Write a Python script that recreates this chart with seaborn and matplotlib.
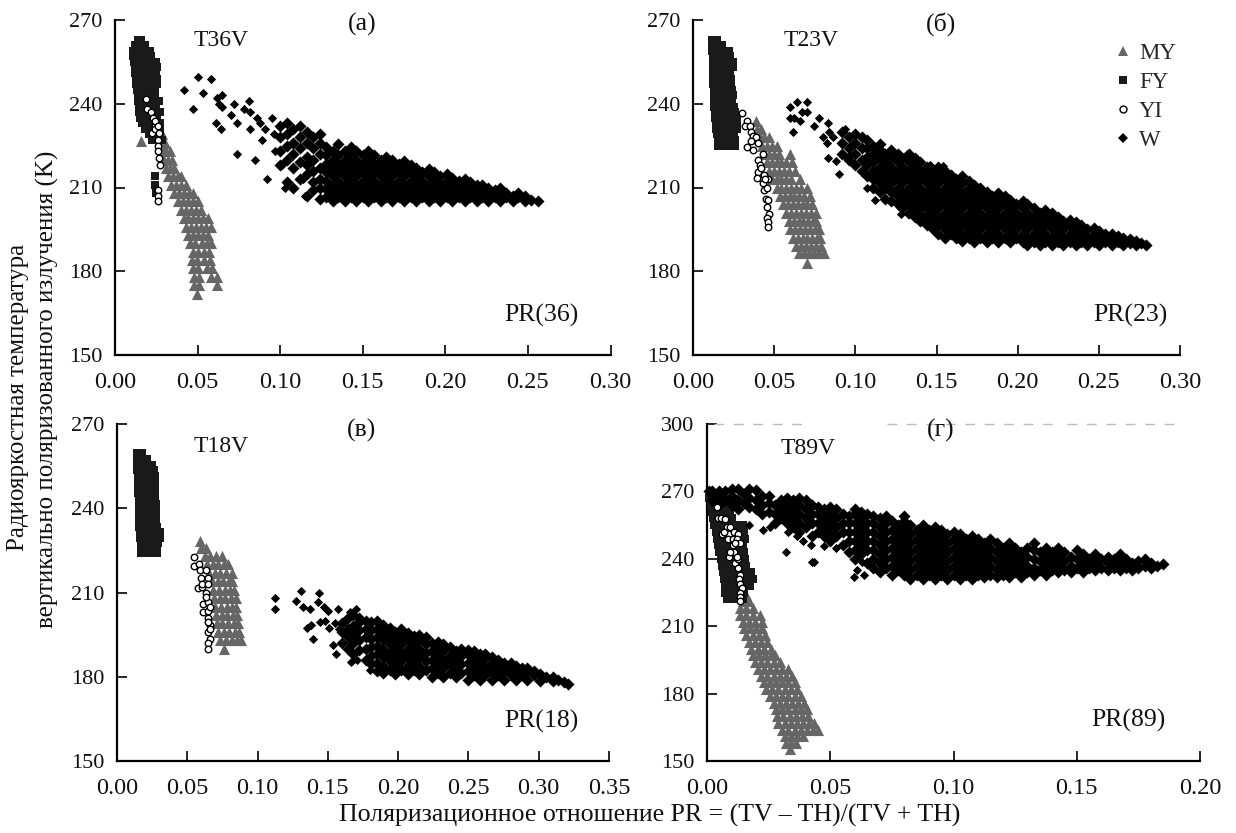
import matplotlib
matplotlib.use("Agg")
import matplotlib.pyplot as plt
from matplotlib.lines import Line2D
import pandas as pd
import seaborn as sns

# every cloud is read off the picture by hand
# *_rows: (T, pr, pr, ...)   *_cols: (pr, T, T, ...)   *_pts: (pr, T)

# panel a, T36V
a_my_rows = [(229,.027,.0285),(226,.0275,.030),(223,.029,.031,.0335),(220,.0295,.032,.0345),(217,.031,.0335,.036),
 (214,.032,.035,.038,.040),(211,.034,.037,.040,.043),(208,.036,.039,.042,.045,.0475),(205,.038,.041,.044,.047,.050),
 (202,.040,.043,.046,.049,.052),(199,.0415,.0445,.0475,.0505,.0535,.0565),(196,.043,.046,.049,.052,.055,.058),
 (193,.0445,.0475,.0505,.0535,.0565),(190,.0455,.0485,.0525,.0555,.058),(187,.047,.0505,.054,.057),
 (184,.0465,.0495,.054,.0575),(181,.047,.050,.056,.059),(178,.048,.051,.058,.0615),(175,.048,.051,.0615),(172,.0495),(226.5,.016)]
a_fy_rows = [(263,.014,.016),(261,.012,.015,.018),(259,.011,.0145,.018,.021),(257,.011,.0145,.018,.0215),
 (255,.0115,.015,.0185,.022,.025),(253,.012,.0155,.019,.0225,.0255),(251,.012,.0155,.019,.0225,.025),
 (249,.0125,.016,.0195,.023,.0255),(247,.013,.0165,.020,.023,.0255),(245,.0135,.017,.0205,.024),
 (243,.014,.0175,.021,.0245),(241,.014,.0175,.021,.0245,.0265),(239,.0145,.018,.0215,.025),
 (237,.0145,.018,.0215,.025,.027),(235,.015,.0185,.022,.0255),(233,.0165,.020,.0235,.027),
 (231,.018,.0215,.025,.0275),(229,.0205,.024,.027),(227,.0225,.0255,.0285),(214,.0245),(211,.0245),(208,.025)]
a_yi_pts = [(.019,241.7),(.0196,238),(.022,237),(.023,235),(.024,232),(.0222,229.5),(.0244,231),(.0269,229.5),
 (.0258,227),(.0258,225),(.026,223),(.0267,220.5),(.027,218),(.0245,234),(.026,232),(.026,209),(.026,207),(.026,205)]
a_w_cols = [(.100,218,223,228,232),(.104,212,220,225,229,233),(.108,210,217,222,226,231),(.112,213,219,224,228,232),
 (.116,207,215,218,221,226,230),(.120,209,212,216,220,224,228),(.124,206,210,213,217,222,226,229),
 (.128,206.5,209.5,212.5,215.5,218.5,221.5,224.5),(.132,205,208,211,214,217,220,223),(.135,206.5,209.5,212.5,215.5,218.5,221.5,225.5),
 (.139,205,208,211,214,217,220,223),(.143,206.5,209.5,212.5,215.5,218.5,221.5,224.5),(.146,205,208,211,214,217,220,223),
 (.150,206.5,209.5,212.5,215.5,218.5,221.5),(.153,205,208,211,214,217,220,223),(.157,206.5,209.5,212.5,215.5,218.5,221.5),
 (.161,205,208,211,214,217,220),(.164,206.5,209.5,212.5,215.5,218.5,221),(.168,205,208,211,214,217,220),
 (.172,206.5,209.5,212.5,215.5,218.5),(.175,205,208,211,214,217,219.5),(.179,206.5,209.5,212.5,215.5,218),(.182,205,208,211,214,217),
 (.186,206.5,209.5,212.5,215.5),(.190,205,208,211,214,216.5),(.193,206.5,209.5,212.5,215.5),(.197,205,208,211,214),
 (.201,206.5,209.5,212.5,215),(.204,205,208,211,213.5),(.208,206.5,209.5,212.5),(.212,205,208,211,213),(.215,206.5,209.5,212),
 (.219,205,208,211),(.222,206.5,209.5,211),(.226,205,208,210),(.230,206.5,209),(.233,205,208,210),(.237,206.5,208),
 (.241,205,207),(.244,206.5,208),(.248,205,207),(.252,205.5),(.256,205)]
a_w_pts = [(.050,249.6),(.058,249),(.042,245),(.053,244),(.047,238),(.062,242),(.065,243),(.063,240),(.065,239),
 (.061,233),(.064,231),(.070,236),(.072,240),(.081,241),(.074,233),(.078,238),(.082,237),(.086,235),(.095,235),
 (.088,233),(.082,231),(.074,222),(.085,220),(.092,213),(.089,227),(.103,210),(.105,212),(.115,207),(.114,213),
 (.097,223),(.101,218),(.091,231),(.096,229)]

# panel b, T23V
b_my_rows = [(234,.039),(231,.0395,.042),(228,.041,.044,.047),(225,.0425,.0455,.0485,.052),(222,.044,.047,.050,.053,.0595),
 (219,.0455,.0485,.0515,.0545,.0575,.061),(216,.047,.050,.053,.056,.059,.063),(213,.0485,.0515,.0545,.0575,.0605,.066),
 (210,.0515,.0545,.0575,.0605,.0635,.0665,.070),(207,.0535,.0565,.0595,.0625,.0655,.0685,.072),
 (204,.0555,.0585,.0615,.0645,.0675,.0705,.0735),(201,.0575,.0605,.0635,.0665,.0695,.0725,.0755),
 (198,.059,.062,.065,.068,.071,.074,.076),(195,.060,.063,.066,.069,.072,.075,.0775),
 (192,.0615,.0645,.0675,.0705,.0735,.0765,.0785),(189,.0635,.0665,.0695,.0725,.0755,.079),
 (186.5,.0655,.0685,.0715,.0745,.0775,.081),(183,.070)]
b_fy_rows = [(263,.012,.015),(261,.012,.015,.018),(259,.012,.0155,.019,.022),(257,.0125,.016,.0195,.023),
 (255,.0125,.016,.0195,.023,.0245),(253,.0125,.016,.0195,.023,.0245),(251,.0125,.016,.0195,.023),
 (249,.0125,.016,.0195,.0235),(247,.0125,.016,.0195,.0235),(245,.013,.0165,.020,.024),(243,.013,.0165,.020,.0235,.0245),
 (241,.013,.0165,.020,.024),(239,.013,.0165,.020,.0235,.025),(237,.0135,.017,.0205,.024,.026),
 (235,.0135,.017,.0205,.024,.027),(233,.014,.0175,.021,.0245,.027),(231,.014,.0175,.021,.0245,.027),
 (229,.015,.0185,.022,.0255),(227,.0155,.019,.0225,.026),(225,.0155,.019,.0225,.026)]
b_yi_pts = [(.030,236.6),(.033,234),(.032,232),(.035,232),(.036,230),(.037,228.5),(.039,228),(.040,226),(.033,224.5),
 (.036,226.5),(.037,223.5),(.043,222),(.040,220),(.041,218),(.040,215.5),(.042,217),(.0395,213.5),(.044,214.5),
 (.046,213),(.043,211.5),(.044,209),(.045,206),(.046,205.5),(.0455,203),(.047,200.5),(.0455,199),(.046,197.5),
 (.046,196),(.0445,213),(.0455,210)]
b_w_cols = [(.092,222,226,230),(.096,220,224,228),(.100,218,222,226,229),(.104,216,220,224,228),(.107,214,218,221,224,227),
 (.111,210,213,216,219,222,225),(.115,208.5,211.5,214.5,217.5,220.5,223.5,225.5),(.118,206,210,213,216,219,222),
 (.122,205,208.5,211.5,214.5,217.5,220.5,223.5),(.126,204,207,210,213,216,219,222),(.129,202.5,205.5,208.5,211.5,214.5,217.5,220.5),
 (.133,201,204,207,210,213,216,219,222),(.137,199.5,202.5,205.5,208.5,211.5,214.5,217.5,220.5),(.140,198,201,204,207,210,213,216,219),
 (.144,196.5,199.5,202.5,205.5,208.5,211.5,214.5,217.5),(.148,195,198,201,204,207,210,213,216),(.151,193.5,196.5,199.5,202.5,205.5,208.5,211.5,214.5,217.5),
 (.155,192,195,198,201,204,207,210,213,216),(.159,193.5,196.5,199.5,202.5,205.5,208.5,211.5,214.5),(.162,192,195,198,201,204,207,210,213),
 (.166,191,193.5,196.5,199.5,202.5,205.5,208.5,211.5,214),(.170,192,195,198,201,204,207,210,212.5),(.173,190.5,193.5,196.5,199.5,202.5,205.5,208.5,211),
 (.177,192,195,198,201,204,207,210),(.181,190.5,193.5,196.5,199.5,202.5,205.5,208.5),(.184,192,195,198,201,204,207),
 (.188,190.5,193.5,196.5,199.5,202.5,205.5,208),(.192,192,195,198,201,204,207),(.195,190.5,193.5,196.5,199.5,202.5,205.5),
 (.199,192,195,198,201,204),(.203,190.5,193.5,196.5,199.5,202.5,205),(.206,189.5,192,195,198,201,204),(.210,190.5,193.5,196.5,199.5,202.5),
 (.214,189.5,192,195,198,201),(.217,190.5,193.5,196.5,199.5,202),(.221,189.5,192,195,198,201),(.225,190.5,193.5,196.5,199.5),
 (.228,189.5,192,195,198),(.232,190.5,193.5,196.5,198.5),(.236,189.5,192,195,197.5),(.239,190.5,193.5,196.5),(.243,189.5,192,195),
 (.247,190.5,193.5,195.5),(.250,189.5,192,194.5),(.254,190.5,193.5),(.258,189.5,192,193.5),(.262,190.5,192.5),(.265,189.5,192),
 (.269,190,191.5),(.273,189.5,191),(.276,190),(.279,189.5)]
b_w_pts = [(.064,240.5),(.070,240.5),(.060,239),(.067,237),(.062,235),(.0598,234.8),(.066,234),(.0616,230),(.070,237),
 (.0776,235),(.0745,232),(.083,233),(.0838,230),(.0825,226),(.0936,231),(.083,220.5),(.088,219.5),(.090,215),
 (.094,221),(.0965,221.5),(.1085,214.6),(.107,210),(.112,205.5),(.128,200.5),(.1325,200.5),(.128,204),(.14,202),
 (.168,193.6),(.132,222),(.146,218),(.154,217.6),(.080,228),(.086,228)]

# panel c, T18V
c_my_rows = [(228.5,.059),(226,.0595,.0635),(223,.0625,.0665,.0705,.0745),(220,.064,.068,.072,.076,.079),
 (217,.0655,.0695,.0735,.0775,.0815),(214,.0675,.0715,.0755,.0795,.082),(211,.0685,.0725,.0765,.0805,.083),
 (208,.069,.073,.077,.081,.085),(205,.070,.074,.078,.082,.085),(202,.0705,.0745,.0785,.0825,.0855),
 (199,.071,.075,.079,.083,.086),(196,.072,.076,.080,.084,.0865),(193,.0735,.0775,.0815,.0855,.088),(190,.076)]
c_fy_rows = [(259.5,.014,.0175),(257.5,.014,.018,.021),(255.5,.0145,.0185,.0225,.025),(253.5,.0145,.0185,.0225,.0265),
 (251.5,.015,.019,.023,.027),(249.5,.015,.019,.023,.027),(247.5,.015,.019,.023,.027),(245.5,.015,.019,.023,.027),
 (243.5,.0155,.0195,.0235,.027),(241.5,.0155,.0195,.0235,.0275),(239.5,.0155,.0195,.0235,.0275),(237.5,.016,.020,.024,.028),
 (235.5,.016,.020,.024,.028),(233.5,.016,.020,.024,.0285),(231.5,.0165,.0205,.0245,.0285,.0305),
 (229.5,.0165,.0205,.0245,.0285,.0305),(227.5,.017,.021,.025,.029),(225.5,.017,.021,.025,.0285),(224,.017,.021,.025,.0285)]
c_yi_pts = [(.0548,222.5),(.0549,219.3),(.058,220),(.0592,218),(.0634,218),(.060,215),(.0644,215),(.0575,211.5),(.0605,212),
 (.063,210),(.0615,206),(.065,206.5),(.061,203),(.0645,203.5),(.0665,205),(.0645,201),(.066,198.5),(.065,196),(.0665,193.5),
 (.065,192),(.065,190),(.0635,208.5),(.0605,213),(.0645,213),(.0665,197),(.065,199.5)]
c_w_cols = [(.160,192,196,199),(.164,190,194,197,201),(.168,188,192,195,198,202),(.172,189.5,193,196.5,199.5,201),
 (.177,186,190,194,197,200),(.181,184.5,187.5,190.5,193.5,196.5,199.5),(.185,182,185,188,191,194,197,200),(.189,181.5,184,187,190,193,196,198.5),
 (.194,182.5,185.5,188.5,191.5,194.5,197.5),(.198,181,184,187,190,193,196),(.202,182.5,185.5,188.5,191.5,194.5,197),(.207,181,184,187,190,193,195.5),
 (.211,182.5,185.5,188.5,191.5,194.5),(.215,181,184,187,190,193,195),(.220,182.5,185.5,188.5,191.5,194),(.224,180,183,186,189,192),
 (.228,181.5,184.5,187.5,190.5,192.5),(.232,180,183,186,189,191.5),(.237,181.5,184.5,187.5,190.5),(.241,180,183,186,189),
 (.245,181.5,184.5,187.5,190),(.250,179,182,185,188,189.5),(.254,180.5,183.5,186.5,189),(.258,179,182,185,188),(.262,180.5,183.5,186.5,188),
 (.267,179,182,185,187),(.271,180.5,183.5,186),(.275,179,182,185),(.280,180.5,183.5,185),(.284,179,182,184),(.288,180.5,183),
 (.292,179,182,183),(.297,180.5,182),(.301,178.5,181),(.305,180),(.310,178.5,180),(.314,179),(.318,178),(.321,177.5)]
c_w_pts = [(.1125,208),(.1125,204),(.131,210.6),(.144,210),(.127,207),(.1325,205),(.137,204),(.143,206.5),(.147,205),(.15,203.5),
 (.157,204),(.135,197.5),(.138,198.5),(.1445,199.6),(.148,200),(.151,197.5),(.1395,193.5),(.154,191.4),(.156,188),(.1665,185.4),
 (.171,186),(.18,182.5),(.158,197),(.162,200),(.166,203),(.170,204),(.155,199)]

# panel d, T89V
d_my_rows = [(224,.016),(221,.0145,.017),(218,.0135,.016,.0185),(215,.0135,.016,.0185,.0215),(212,.0145,.017,.0195,.0225),
 (209,.015,.0175,.020,.0225),(206,.016,.0185,.021,.0235),(203,.017,.0195,.022,.0245),(200,.018,.0205,.023,.026),
 (197,.0185,.021,.0235,.026,.0275),(194,.0195,.022,.0245,.027,.0295),(191,.0205,.023,.0255,.028,.0305,.033),
 (188,.022,.0245,.027,.0295,.032,.0345),(185,.023,.0255,.028,.0305,.033,.0355),(182,.024,.0265,.029,.0315,.034,.0365),
 (179,.0255,.028,.0305,.033,.0355,.038),(176,.027,.0295,.032,.0345,.037,.0395),(173,.028,.0305,.033,.0355,.038,.0405),
 (170,.0285,.031,.0335,.036,.0385,.041),(167,.029,.0315,.034,.0365,.039,.0415,.0435),(164,.0305,.033,.0355,.038,.0405,.043,.045),
 (161,.0315,.034,.0365,.039),(158,.032,.034,.036),(155.5,.0335)]
d_fy_rows = [(267,.001,.0035,.006),(264,.0015,.004,.0065,.009),(261,.002,.0045,.007,.0095),(258,.0025,.005,.0075,.010),
 (255,.003,.0055,.008,.0105,.013,.0147),(252,.0035,.006,.0085,.011,.0135,.015),(249,.004,.0065,.009,.0115,.014,.0155),
 (246,.0045,.007,.0095,.012,.0145),(243,.005,.0075,.010,.0125,.015),(240,.0055,.008,.0105,.013,.0155),
 (237,.006,.0085,.011,.0135,.016),(234,.0065,.009,.0115,.014,.0165,.018),(231,.007,.0095,.012,.0145,.017,.0187),
 (228,.0075,.010,.0125,.015,.0175),(225,.0075,.010,.0125,.015),(222,.008,.0105,.013,.0147)]
d_yi_pts = [(.004,263),(.0045,258),(.0055,258),(.0075,257.5),(.008,254),(.0095,254),(.006,251),(.009,251),(.011,252),(.0125,251),
 (.0085,249),(.0105,249),(.012,249),(.0135,247),(.0105,246),(.011,243),(.009,241),(.0095,243),(.0115,238),(.0125,240),(.0125,236),
 (.0135,233),(.013,231),(.0135,229),(.014,227),(.0135,225),(.0135,223),(.0135,221),(.012,241),(.0115,247),(.007,252)]
d_w_cols = [(.001,270),(.002,266,270),(.005,264,268,270),(.0075,266,270),(.010,264,268,271),(.0125,262,266,271),(.015,265,269),
 (.017,263,267,271),(.020,262,266,270.5),(.0225,260,264,268),(.025,261,265,268),(.0275,256,260,264),(.030,258,262,266),
 (.0325,256,260,264,267),(.035,254,258,262,266),(.0375,252,256,260,264,267),(.040,254,258,262,266),(.0425,250,256,260,264),
 (.045,252,256,260,263),(.0475,250,254,258,262),(.050,248,252,256,260,263),(.0525,250,254,258,262),(.055,246,252,256,260),
 (.0575,243,248,252,256,259),(.060,240,244,248,252,256,260,262),(.0625,242,246,250,254,258,261),(.065,238,244,248,252,256,260),
 (.0675,236,240,244,248,252,256,259),(.070,234,238,242,246,250,254,258),(.0725,236,240,244,248,252,256,259),
 (.075,233,237,241,245,249,253,257),(.0775,235,239,243,247,251,255),(.080,233,237,241,245,249,253,257,259),
 (.0825,231,235,239,243,247,251,255),(.085,233,237,241,245,249,253),(.0875,231,235,239,243,247,251,255),(.090,233,237,241,245,249,253),
 (.0925,231,235,239,243,247,251,254),(.095,233,237,241,245,249,253),(.0975,231,235,239,243,247,251),(.100,233,237,241,245,249,252),
 (.1025,231,235,239,243,247,251),(.105,233,237,241,245,249),(.1075,231,235,239,243,247,250),(.110,233,237,241,245,249),
 (.1125,232,235,239,243,247),(.115,233,237,241,245,249),(.1175,232,235,239,243,247),(.120,233,237,241,245),(.1225,232,235,239,243,247),
 (.125,234,237,241,245),(.1275,232,235,239,243),(.130,234,237,241,245),(.1325,233,236,240,244,247),(.135,235,239,243),
 (.1375,233,237,241,245),(.140,235,239,243),(.1425,234,237,241,245),(.145,235,239,243),(.1475,234,237,241),(.150,236,240,244),
 (.1525,234,238,242),(.155,236,240),(.1575,235,238,242),(.160,236,240),(.1625,235,238,241),(.165,236,240),(.1675,235,238,242),
 (.170,236,240),(.1725,235,238),(.175,236,239),(.1775,237,240),(.180,236,238),(.1825,237),(.185,237.5)]
d_w_pts = [(.032,243),(.0427,238.7),(.0435,238.7),(.0595,232),(.061,235),(.0635,233),(.0627,238.7),(.0228,252.6),(.017,255),
 (.0256,254),(.0366,250),(.0423,246),(.0476,245.6),(.0525,244.7),(.033,252),(.039,248)]

y_a = [150, 180, 210, 240, 270]
x_a = [0.00, 0.05, 0.10, 0.15, 0.20, 0.25, 0.30]
x_c = [0.00, 0.05, 0.10, 0.15, 0.20, 0.25, 0.30, 0.35]
y_d = [150, 180, 210, 240, 270, 300]
x_d = [0.00, 0.05, 0.10, 0.15, 0.20]
dash_d = [(0.003, 0.042), (0.073, 0.140), (0.146, 0.192)]
kinds = ["MY", "FY", "Wp", "W", "YI"]


def from_rows(rows):
    return [(x, r[0]) for r in rows for x in r[1:]]


def from_cols(cols):
    return [(c[0], y) for c in cols for y in c[1:]]


def frame(my, fy, yi, w_cols, w_pts):
    sets = {"MY": from_rows(my), "FY": from_rows(fy), "YI": yi, "W": from_cols(w_cols), "Wp": w_pts}
    out = [pd.DataFrame(v, columns=["pr", "t"]).assign(kind=k) for k, v in sets.items()]
    return pd.concat(out)


W, H = 1236, 833
sns.set_theme(style="ticks")
plt.rcParams["font.family"] = ["Liberation Serif", "DejaVu Serif"]
fig = plt.figure(figsize=(W / 100, H / 100), dpi=100)

# the dense parts use fatter markers so that the clouds close up
markers = {"MY": "^", "FY": "s", "YI": "o", "W": "D", "Wp": "D"}
sizes = {"MY": 64, "FY": 32, "YI": 22, "W": 38, "Wp": 22}
colors = {"MY": "#666666", "FY": "#1a1a1a", "YI": "white", "W": "black", "Wp": "black"}
order = {"MY": 2, "FY": 3, "Wp": 4, "W": 4, "YI": 5}
TXT = "#111111"

panels = [
    ("а", frame(a_my_rows, a_fy_rows, a_yi_pts, a_w_cols, a_w_pts), (115, 610.5, 20, 355), x_a, y_a, "(a)", "T36V", "PR(36)", (362, 24), (221, 40), (541, 315)),
    ("б", frame(b_my_rows, b_fy_rows, b_yi_pts, b_w_cols, b_w_pts), (693, 1180, 20, 355), x_a, y_a, "(б)", "T23V", "PR(23)", (941, 24), (811, 40), (1130, 315)),
    ("в", frame(c_my_rows, c_fy_rows, c_yi_pts, c_w_cols, c_w_pts), (117, 609, 424, 761), x_c, y_a, "(в)", "T18V", "PR(18)", (362, 430), (221, 447), (541, 721)),
    ("г", frame(d_my_rows, d_fy_rows, d_yi_pts, d_w_cols, d_w_pts), (707, 1200, 424, 761), x_d, y_d, "(г)", "T89V", "PR(89)", (941, 430), (808, 449), (1128, 720)),
]

for name, df, box, xt, yt, tag, band, pr, tag_xy, band_xy, pr_xy in panels:
    l, r, t, b = box
    ax = fig.add_axes([l / W, 1 - b / H, (r - l) / W, (b - t) / H])
    for k in kinds:
        sns.scatterplot(data=df[df.kind == k], x="pr", y="t", ax=ax, marker=markers[k], s=sizes[k], color=colors[k],
                        edgecolor="black" if k == "YI" else colors[k], linewidth=1.0 if k == "YI" else 0,
                        zorder=order[k], clip_on=False, legend=False)
    ax.set_xlim(xt[0], xt[-1])
    ax.set_ylim(yt[0], yt[-1])
    ax.set_xticks(xt)
    ax.set_xticklabels([f"{v:.2f}" for v in xt])
    ax.set_yticks(yt)
    ax.set_xlabel("")
    ax.set_ylabel("")
    ax.tick_params(direction="in", length=7, width=1.2, color="black", labelcolor=TXT)
    ax.tick_params(axis="x", labelsize=17.5, pad=12)
    ax.tick_params(axis="y", labelsize=16, pad=9)
    sns.despine(ax=ax)
    for s in ["left", "bottom"]:
        ax.spines[s].set_linewidth(1.6)
        ax.spines[s].set_color("black")
    fig.text(tag_xy[0] / W, 1 - tag_xy[1] / H, tag, ha="center", va="center", fontsize=18.5, color=TXT)
    fig.text(band_xy[0] / W, 1 - band_xy[1] / H, band, ha="center", va="center", fontsize=17, color=TXT)
    fig.text(pr_xy[0] / W, 1 - pr_xy[1] / H, pr, ha="center", va="center", fontsize=18.5, color=TXT)
    if name == "б":
        handles = [Line2D([], [], ls="", marker="^", ms=6.5, color="#666666", mew=0),
                   Line2D([], [], ls="", marker="s", ms=5.5, color="#1a1a1a", mew=0),
                   Line2D([], [], ls="", marker="o", ms=5, mfc="white", mec="black", mew=1),
                   Line2D([], [], ls="", marker="D", ms=5, color="black", mew=0)]
        ax.legend(handles, ["MY", "FY", "YI", "W"], frameon=False, fontsize=16.5, loc="upper left",
                  bbox_to_anchor=(0.836, 0.967), labelspacing=0.35, handletextpad=0.2, borderpad=0, handlelength=1.0)
    if name == "г":
        for x0, x1 in dash_d:
            ax.plot([x0, x1], [300, 300], color="#bbbbbb", lw=1, ls=(0, (7, 7)), clip_on=False, zorder=1)

fig.text(18 / W, 1 - 397 / H, "Радиояркостная температура", rotation=90, ha="center", va="center", fontsize=18, color=TXT)
fig.text(47 / W, 1 - 389 / H, "вертикально поляризованного излучения (K)", rotation=90, ha="center", va="center", fontsize=18, color=TXT)
fig.text(650 / W, 1 - 815 / H, "Поляризационное отношение PR = (TV – TH)/(TV + TH)", ha="center", va="center", fontsize=18.6, color=TXT)

fig.savefig("out.png", dpi=100)
